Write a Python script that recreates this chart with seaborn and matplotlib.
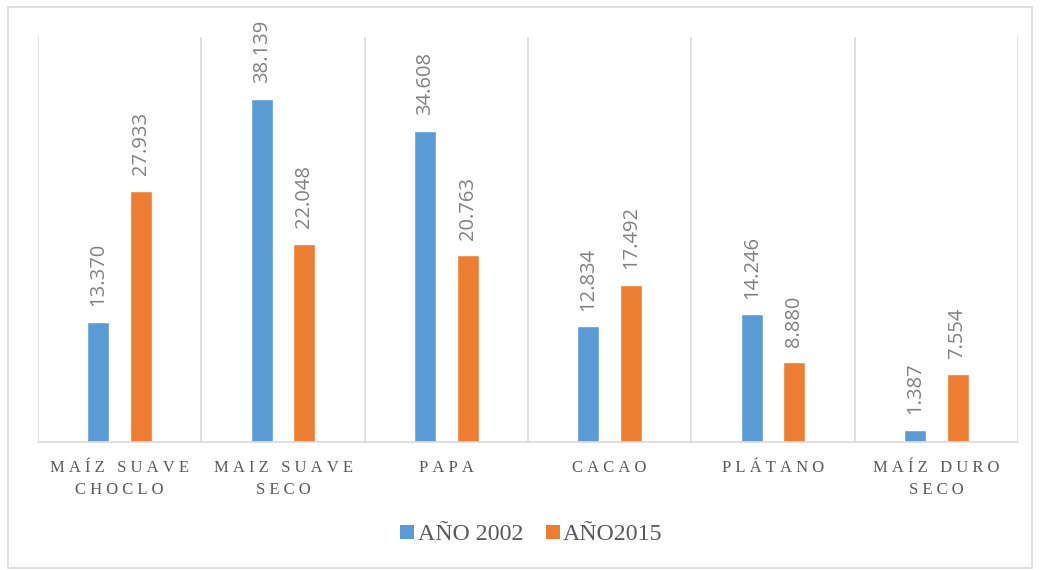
import matplotlib
matplotlib.use("Agg")
import matplotlib.pyplot as plt
import seaborn as sns
import pandas as pd
from matplotlib.patches import Rectangle, Patch
from matplotlib.ticker import MultipleLocator

categories = ["MAÍZ SUAVE\nCHOCLO", "MAIZ SUAVE\nSECO", "PAPA", "CACAO", "PLÁTANO", "MAÍZ DURO\nSECO"]
series_names = ["AÑO 2002", "AÑO2015"]
values_2002 = [13370, 38139, 34608, 12834, 14246, 1387]
values_2015 = [27933, 22048, 20763, 17492, 8880, 7554]
colors = ["#5B9BD5", "#ED7D31"]

df = pd.DataFrame({
    "cat": categories * 2,
    "serie": [series_names[0]] * len(categories) + [series_names[1]] * len(categories),
    "val": values_2002 + values_2015,
})

sns.set_theme(style="white")
fig = plt.figure(figsize=(10.4, 5.7), dpi=100)
ax = fig.add_axes([38/1040, 1-442/570, (1018-38)/1040, (442-37)/570])

sns.barplot(data=df, x="cat", y="val", hue="serie", palette=colors,
            width=0.52, gap=0.48, ax=ax, legend=False, saturation=1,
            order=categories, hue_order=series_names)

def fmt(v):
    return f"{v:,.0f}".replace(",", ".")

for cont in ax.containers:
    ax.bar_label(cont, labels=[fmt(b.get_height()) for b in cont], rotation=90,
                 padding=11, color="#808080", fontsize=14.5, family="Open Sans")

ax.set_xlim(-0.5, len(categories) - 0.5)
ax.set_ylim(0, 45000)
ax.set_yticks([])
ax.set_xlabel("")
ax.set_ylabel("")
ax.xaxis.set_minor_locator(MultipleLocator(1, offset=0.5))
ax.grid(True, which="minor", axis="x", color="#D9D9D9", linewidth=1.2)
ax.tick_params(axis="x", which="both", length=0, pad=13)
for s in ["top", "right", "left"]:
    ax.spines[s].set_visible(False)
ax.spines["bottom"].set_color("#D9D9D9")
ax.spines["bottom"].set_linewidth(1.2)

# letter-spaced category labels
def spaced(t):
    return "\n".join("\u2005".join(list(line)) for line in t.split("\n"))

ax.set_xticks(range(len(categories)))
ax.set_xticklabels([spaced(c) for c in categories], family=["Liberation Serif", "DejaVu Serif"],
                   fontsize=12, color="#595959", linespacing=1.5)

handles = [Patch(facecolor=c, edgecolor="none") for c in colors]
fig.legend(handles, series_names, loc="center", bbox_to_anchor=(0.511, 1-535/570), ncol=2,
           frameon=False, prop={"family": "Liberation Serif", "size": 17.2},
           labelcolor="#595959", handlelength=0.58, handleheight=0.58,
           handletextpad=0.15, columnspacing=0.95)

fig.patches.append(Rectangle((8/1040, 2/570), 1024/1040, 561/570, transform=fig.transFigure,
                             fill=False, edgecolor="#D9D9D9", linewidth=1.2))

fig.savefig("out.png", dpi=100, facecolor="white")
